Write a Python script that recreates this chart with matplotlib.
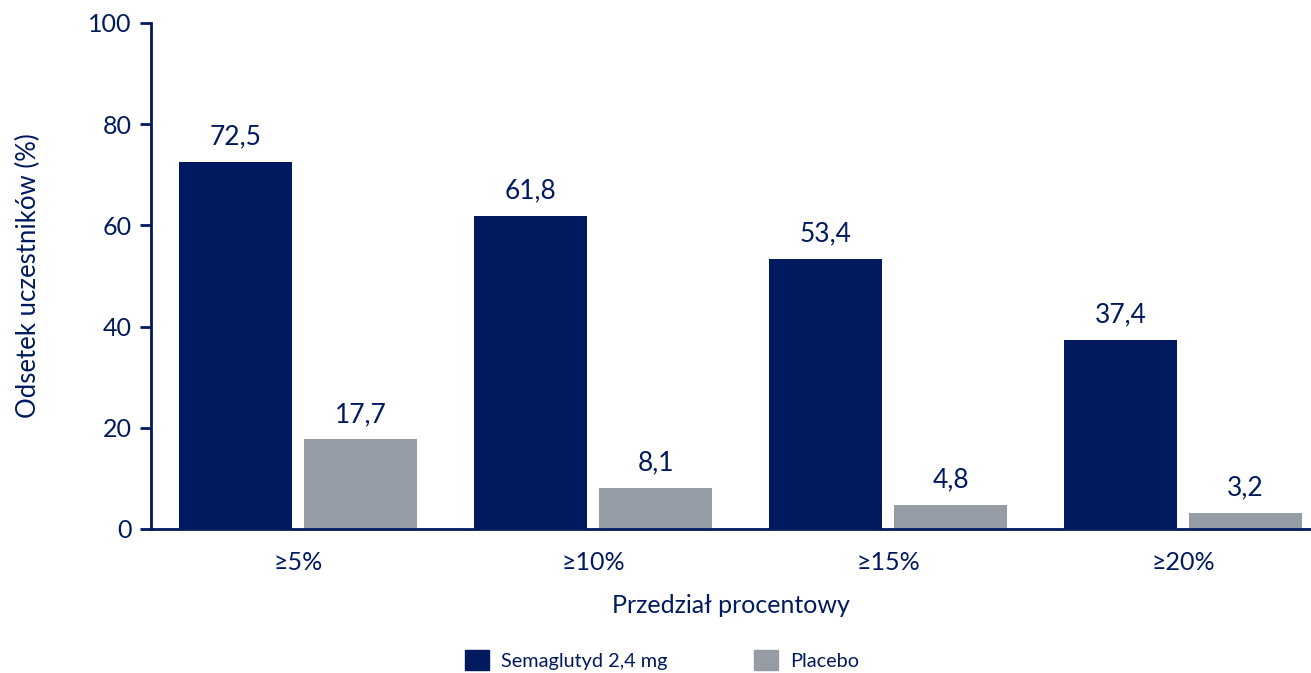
import matplotlib
matplotlib.use("Agg")
import matplotlib.pyplot as plt
import numpy as np
from matplotlib.patches import Patch

categories = ["≥5%", "≥10%", "≥15%", "≥20%"]
sema = [72.5, 61.8, 53.4, 37.4]
placebo = [17.7, 8.1, 4.8, 3.2]
sema_labels = ["72,5", "61,8", "53,4", "37,4"]
placebo_labels = ["17,7", "8,1", "4,8", "3,2"]
series_names = ["Semaglutyd 2,4 mg", "Placebo"]

navy = "#001A5E"
blue = "#001A60"
gray = "#969CA6"

plt.rcParams['font.family'] = ['Lato', 'DejaVu Sans']

fig = plt.figure(figsize=(13.11, 6.73), dpi=100)
ax = fig.add_axes([151/1311, 1 - 529/673, 1 - 151/1311, (529 - 23)/673])

x = np.arange(len(categories))
w = 113/295
off = 62.5/295
b1 = ax.bar(x - off, sema, width=w, color=blue)
b2 = ax.bar(x + off, placebo, width=w, color=gray)

for bars, labs in ((b1, sema_labels), (b2, placebo_labels)):
    for rect, lab in zip(bars, labs):
        ax.annotate(lab, (rect.get_x() + rect.get_width()/2, rect.get_height()),
                    xytext=(0, 9), textcoords="offset points", ha="center", va="bottom",
                    fontsize=19, color=navy)

ax.set_xlim(-0.5, (1311 - 298)/295)
ax.set_ylim(0, 100)
ax.set_yticks([0, 20, 40, 60, 80, 100])
ax.set_xticks(x)
ax.set_xticklabels(categories)
ax.tick_params(axis='x', length=0, pad=16, labelsize=18, labelcolor=navy)
ax.tick_params(axis='y', length=8, width=2, color=navy, pad=6, labelsize=18, labelcolor=navy)
for s in ("top", "right"):
    ax.spines[s].set_visible(False)
for s in ("left", "bottom"):
    ax.spines[s].set_color(navy)
    ax.spines[s].set_linewidth(2)
ax.set_ylabel("Odsetek uczestników (%)", fontsize=18.5, color=navy, labelpad=34)
ax.set_xlabel("Przedział procentowy", fontsize=18, color=navy, labelpad=14)

handles = [Patch(color=blue, label=series_names[0]), Patch(color=gray, label=series_names[1])]
leg = fig.legend(handles=handles, loc="center", bbox_to_anchor=(662/1311, 1 - 660/673),
                 ncol=2, frameon=False, fontsize=14.3, handlelength=1.2, handleheight=1.2,
                 columnspacing=4.4, handletextpad=0.6, labelcolor=navy)

fig.savefig("out.png", dpi=100)
